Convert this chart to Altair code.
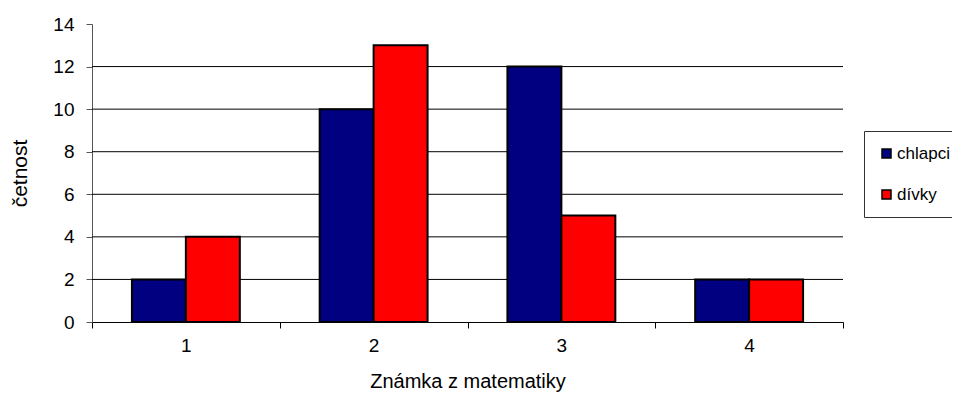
import altair as alt
import pandas as pd

categories = ["1", "2", "3", "4"]
chlapci = [2, 10, 12, 2]
divky = [4, 13, 5, 2]
series = ["chlapci", "dívky"]
y_ticks = [0, 2, 4, 6, 8, 10, 12, 14]
grid_values = [2, 4, 6, 8, 10, 12]

rows = []
for i, c in enumerate(categories):
    rows.append({"znamka": c, "pohlavi": "chlapci", "cetnost": chlapci[i]})
    rows.append({"znamka": c, "pohlavi": "dívky", "cetnost": divky[i]})
df = pd.DataFrame(rows)
grid_df = pd.DataFrame({"g": grid_values})

font = "Liberation Sans"

grid = alt.Chart(grid_df).mark_rule(color="black", strokeWidth=1).encode(
    y=alt.Y("g:Q", scale=alt.Scale(domain=[0, 14]), axis=None)
)

bars = alt.Chart(df).mark_bar(stroke="black", strokeWidth=2).encode(
    x=alt.X("znamka:N", sort=categories,
            scale=alt.Scale(paddingInner=0, paddingOuter=0),
            axis=alt.Axis(title="Známka z matematiky", labelAngle=0,
                          labelFontSize=19, titleFontSize=20,
                          titleFontWeight="normal", titlePadding=16,
                          labelPadding=8, tickBand="extent", tickSize=6,
                          domainColor="black", tickColor="black",
                          labelColor="black", titleColor="black", grid=False)),
    xOffset=alt.XOffset("pohlavi:N", sort=series,
                        scale=alt.Scale(paddingOuter=0.74, paddingInner=0)),
    y=alt.Y("cetnost:Q", scale=alt.Scale(domain=[0, 14]),
            axis=alt.Axis(title="četnost", values=y_ticks,
                          labelFontSize=19, titleFontSize=21,
                          titleFontWeight="normal", titlePadding=22,
                          labelPadding=12, tickSize=6, grid=False,
                          domainColor="#555", tickColor="#555",
                          labelColor="black", titleColor="black")),
    color=alt.Color("pohlavi:N", sort=series,
                    scale=alt.Scale(domain=series, range=["#000080", "#ff0000"]),
                    legend=alt.Legend(title=None, orient="none",
                                      legendX=772, legendY=107,
                                      symbolType="square", symbolSize=81,
                                      symbolStrokeColor="black",
                                      symbolStrokeWidth=1.5,
                                      labelFontSize=17, labelColor="black",
                                      rowPadding=23, padding=14,
                                      strokeColor="#333", fillColor="white",
                                      labelOffset=2)),
)

chart = alt.layer(grid, bars).resolve_axis(y="independent").properties(
    width=751, height=298,
    autosize=alt.AutoSizeParams(type="none"),
    padding={"left": 84, "top": 16, "right": 109, "bottom": 73},
).configure(font=font).configure_view(stroke=None)

chart.save("out.html", embed_options={"renderer": "svg", "actions": False})
